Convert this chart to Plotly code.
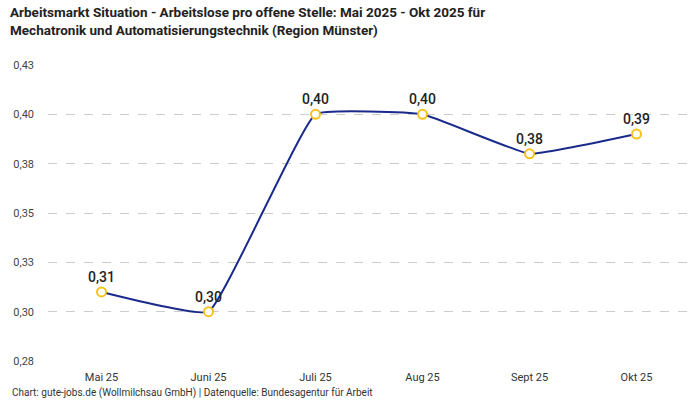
import plotly.graph_objects as go

# Arbeitslose pro offene Stelle, Region Münster
monate = ["Mai 25", "Juni 25", "Juli 25", "Aug 25", "Sept 25", "Okt 25"]
werte = [0.31, 0.30, 0.40, 0.40, 0.38, 0.39]
labels = ["0,31", "0,30", "0,40", "0,40", "0,38", "0,39"]

y_ticks = [0.275, 0.30, 0.325, 0.35, 0.375, 0.40, 0.425]
y_ticktext = ["0,28", "0,30", "0,33", "0,35", "0,38", "0,40", "0,43"]

fig = go.Figure()
fig.add_trace(go.Scatter(
    x=monate, y=werte,
    mode="lines+markers+text",
    line=dict(color="#1a2a8c", width=2, shape="spline", smoothing=0.3),
    marker=dict(size=9, color="white", line=dict(color="#f7c31a", width=2)),
    text=labels,
    textposition="top center",
    textfont=dict(family="Roboto", size=14, color="#222222", weight=500),
    cliponaxis=False,
    showlegend=False,
))

fig.update_layout(
    width=700, height=400,
    paper_bgcolor="white", plot_bgcolor="white",
    margin=dict(l=48, r=10, t=65, b=39),
    xaxis=dict(
        showgrid=False, showline=False, zeroline=False,
        tickfont=dict(family="Roboto", size=11, color="#333333"),
        range=[-0.5, 5.5],
        ticklabelstandoff=8,
    ),
    yaxis=dict(
        range=[0.275, 0.425],
        tickvals=y_ticks, ticktext=y_ticktext,
        showgrid=True, gridcolor="#cccccc", griddash="dash", gridwidth=1,
        zeroline=False, showline=False,
        tickfont=dict(family="Roboto", size=11, color="#444444"),
        ticklabelstandoff=13,
    ),
    annotations=[
        dict(
            text="<b>Arbeitsmarkt Situation - Arbeitslose pro offene Stelle: Mai 2025 - Okt 2025 für<br>Mechatronik und Automatisierungstechnik (Region Münster)</b>",
            xref="paper", yref="paper", x=-0.0623, y=1.213, xanchor="left", yanchor="top",
            align="left", showarrow=False,
            font=dict(family="Roboto", size=13.5, color="#222222"),
        ),
        dict(
            text="Chart: gute-jobs.de (Wollmilchsau GmbH) | Datenquelle: Bundesagentur für Arbeit",
            xref="paper", yref="paper", x=-0.0592, y=-0.108, xanchor="left", yanchor="middle",
            showarrow=False,
            font=dict(family="Roboto", size=10, color="#333333"),
        ),
    ],
)

fig.write_html("out.html", config={"displayModeBar": False},
               post_script="document.body.style.margin='0';")
